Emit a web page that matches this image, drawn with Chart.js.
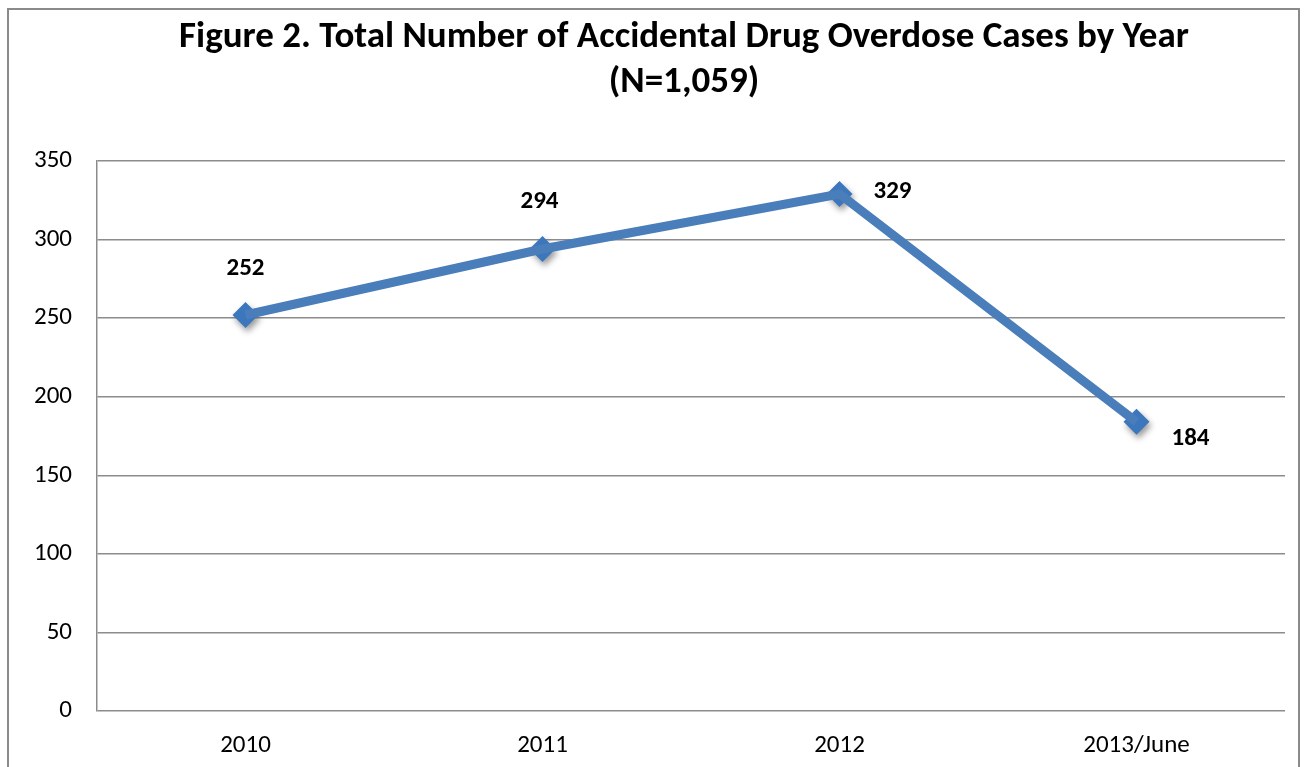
<!DOCTYPE html>
<html>
<head>
<meta charset="utf-8">
<title>Accidental Drug Overdose Cases by Year</title>
<script src="https://cdn.jsdelivr.net/npm/chart.js@4"></script>
<style>
  html, body { margin: 0; padding: 0; background: #fff; }
  #wrap { width: 1307px; height: 767px; position: relative; }
</style>
</head>
<body>
<div id="wrap"><canvas id="overdoseChart" width="1307" height="767"></canvas></div>
<script>
const years = ['2010', '2011', '2012', '2013/June'];
const cases = [252, 294, 329, 184];
const yTicks = [0, 50, 100, 150, 200, 250, 300, 350];
const titleLines = ['Figure 2. Total Number of Accidental Drug Overdose Cases by Year', '(N=1,059)'];

const FONT = 'Carlito, Lato, "Open Sans", sans-serif';

// Outer frame and the two-line heading
const frame = {
  id: 'frame',
  beforeDraw(chart) {
    const ctx = chart.ctx;
    ctx.save();
    ctx.strokeStyle = '#8a8a8a';
    ctx.lineWidth = 2;
    ctx.strokeRect(8, 9, chart.width - 16, chart.height + 20);
    ctx.font = 'bold 37px ' + FONT;
    ctx.fillStyle = '#000';
    ctx.textAlign = 'center';
    ctx.textBaseline = 'middle';
    ctx.fillText(titleLines[0], 684, 38);
    ctx.fillText(titleLines[1], 684, 83);
    ctx.restore();
  }
};

// Drop shadow under the diamond markers only
const markerShadow = {
  id: 'markerShadow',
  beforeDatasetDraw(chart, args) {
    if (args.index !== 1) return;
    const ctx = chart.ctx;
    ctx.save();
    ctx.shadowColor = 'rgba(0,0,0,0.4)';
    ctx.shadowBlur = 6;
    ctx.shadowOffsetX = 2;
    ctx.shadowOffsetY = 4;
  },
  afterDatasetDraw(chart, args) {
    if (args.index !== 1) return;
    chart.ctx.restore();
  }
};

// Bold value labels next to each point
const valueLabels = {
  id: 'valueLabels',
  afterDatasetsDraw(chart, args, opts) {
    const ctx = chart.ctx;
    const meta = chart.getDatasetMeta(1);
    ctx.save();
    ctx.font = 'bold 25px ' + FONT;
    ctx.fillStyle = '#000';
    ctx.textAlign = 'center';
    ctx.textBaseline = 'middle';
    meta.data.forEach((pt, i) => {
      const off = opts.offsets[i];
      ctx.fillText(String(cases[i]), pt.x + off[0], pt.y + off[1]);
    });
    ctx.restore();
  }
};

new Chart(document.getElementById('overdoseChart'), {
  type: 'line',
  data: {
    labels: years,
    datasets: [
      {
        data: cases,
        borderColor: '#4a7ebb',
        borderWidth: 9,
        pointRadius: 0,
        tension: 0,
        fill: false
      },
      {
        data: cases,
        showLine: false,
        pointStyle: 'rectRot',
        pointRadius: 13,
        pointBackgroundColor: '#3c76bc',
        pointBorderWidth: 0
      }
    ]
  },
  options: {
    responsive: false,
    animation: false,
    layout: { padding: { left: 0, right: 22, top: 161, bottom: 0 } },
    scales: {
      x: {
        offset: true,
        grid: { display: false, drawTicks: false },
        border: { display: false },
        ticks: { color: '#000', padding: 20, font: { family: FONT, size: 25 } },
        afterFit(scale) { scale.height = 56; }
      },
      y: {
        min: 0,
        max: 350,
        afterBuildTicks(scale) { scale.ticks = yTicks.map(v => ({ value: v })); },
        grid: { color: '#8c8c8c', lineWidth: 1.5, drawTicks: false },
        border: { display: true, color: '#8c8c8c', width: 1.5 },
        ticks: { color: '#000', padding: 25, font: { family: FONT, size: 25 } },
        afterFit(scale) { scale.width = 97; }
      }
    },
    plugins: {
      legend: { display: false },
      tooltip: { enabled: false },
      title: { display: false },
      valueLabels: {
        offsets: [[0, -46], [-3, -47], [53, -2], [54, 17]]
      }
    }
  },
  plugins: [frame, markerShadow, valueLabels]
});
</script>
</body>
</html>
